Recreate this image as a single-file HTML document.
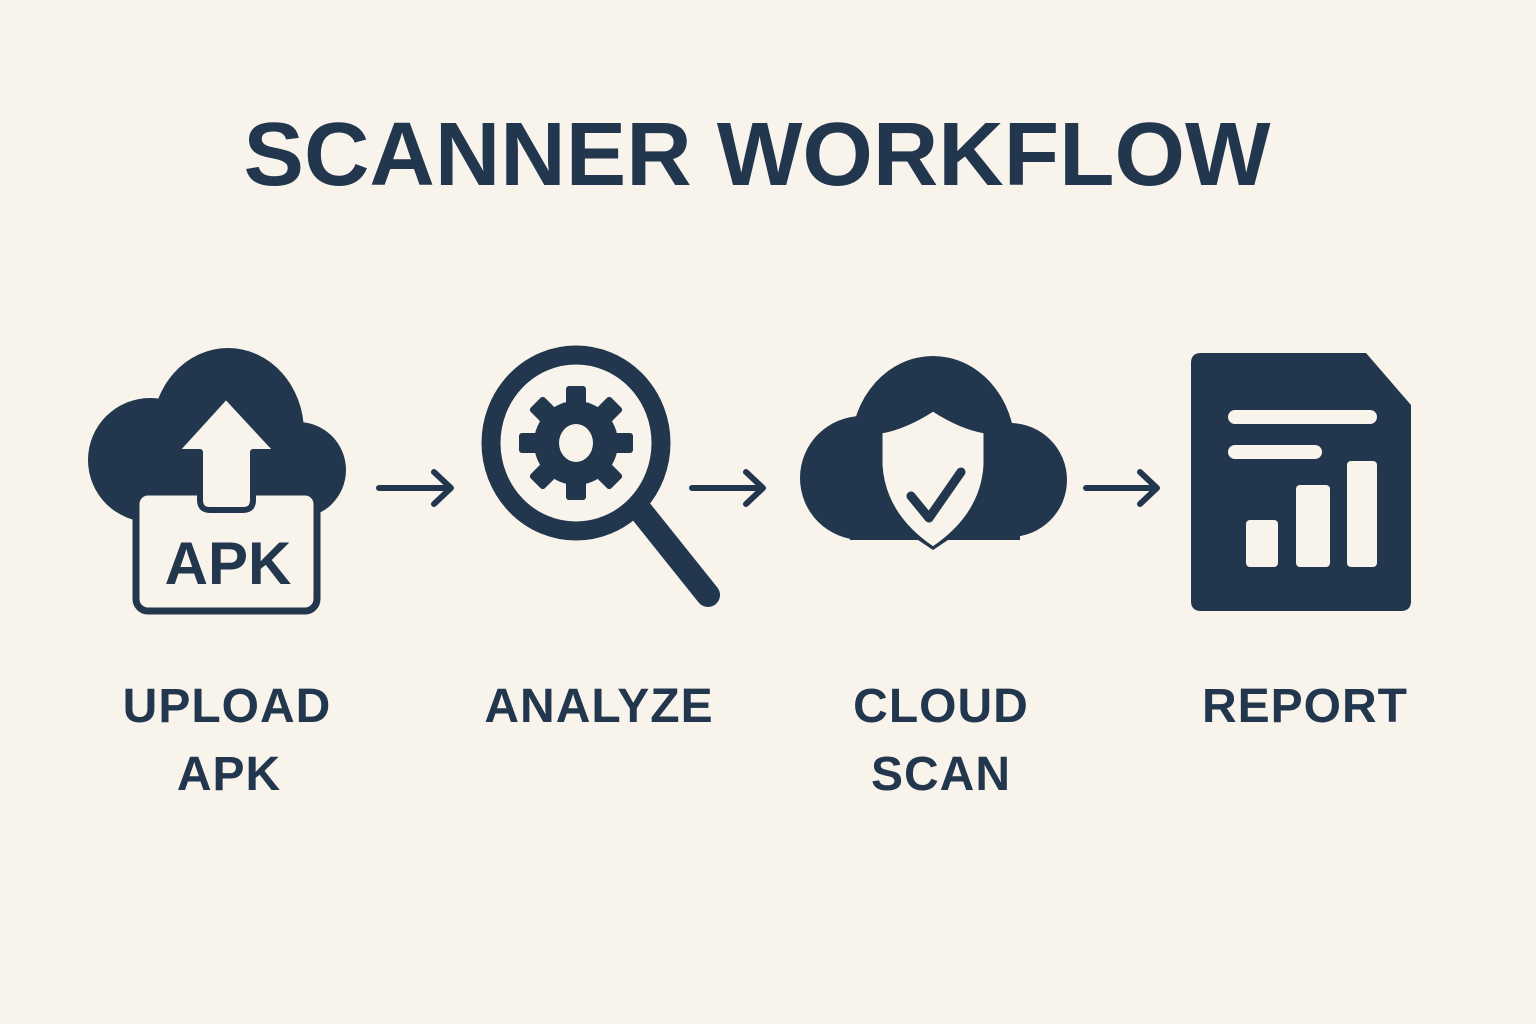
<!DOCTYPE html>
<html><head><meta charset="utf-8"><style>
html,body{margin:0;padding:0;background:#f8f4ec;}
svg{display:block}
text{font-family:"Liberation Sans",sans-serif;font-weight:bold;fill:#22364d}
</style></head><body>
<svg width="1536" height="1024" viewBox="0 0 1536 1024" xmlns="http://www.w3.org/2000/svg">
<rect width="1536" height="1024" fill="#f8f4ec"/>
<text x="757" y="185" font-size="90" text-anchor="middle" textLength="1027" lengthAdjust="spacingAndGlyphs">SCANNER WORKFLOW</text>

<!-- Upload icon -->
<g fill="#22364d">
<ellipse cx="228" cy="432" rx="76" ry="84"/>
<circle cx="150" cy="460" r="62"/>
<circle cx="298" cy="470" r="48"/>
<rect x="150" y="440" width="150" height="80"/>
</g>
<rect x="136" y="492" width="181" height="119" rx="12" fill="#f8f4ec" stroke="#22364d" stroke-width="7"/>
<path d="M226 396 L278 452 L253 452 L253 500 Q253 510 243 510 L210 510 Q200 510 200 500 L200 452 L175 452 Z" fill="#f8f4ec" stroke="#22364d" stroke-width="6" stroke-linejoin="round"/>
<text x="228" y="584" font-size="60" text-anchor="middle">APK</text>

<!-- Arrows -->
<g stroke="#22364d" stroke-width="6" stroke-linecap="round" stroke-linejoin="round" fill="none">
<path d="M379 488 H450 M434 472 L451 488 L434 504"/>
<path d="M692 488 H762 M746 472 L763 488 L746 504"/>
<path d="M1086 488 H1156 M1140 472 L1157 488 L1140 504"/>
</g>

<!-- Magnifier -->
<ellipse cx="576" cy="443" rx="85" ry="88" fill="none" stroke="#22364d" stroke-width="19"/>
<path d="M640 510 L708 595" stroke="#22364d" stroke-width="24" stroke-linecap="round"/>
<path d="M636 508 L652 528" stroke="#22364d" stroke-width="14"/>
<g fill="#22364d" transform="translate(576,443)">
<circle r="42"/>
<g>
<rect x="-10" y="-57" width="20" height="22" rx="3"/>
<rect x="-10" y="-57" width="20" height="22" rx="3" transform="rotate(45)"/>
<rect x="-10" y="-57" width="20" height="22" rx="3" transform="rotate(90)"/>
<rect x="-10" y="-57" width="20" height="22" rx="3" transform="rotate(135)"/>
<rect x="-10" y="-57" width="20" height="22" rx="3" transform="rotate(180)"/>
<rect x="-10" y="-57" width="20" height="22" rx="3" transform="rotate(225)"/>
<rect x="-10" y="-57" width="20" height="22" rx="3" transform="rotate(270)"/>
<rect x="-10" y="-57" width="20" height="22" rx="3" transform="rotate(315)"/>
</g>
<ellipse rx="17" ry="19" fill="#f8f4ec"/>
</g>

<!-- Cloud shield -->
<g fill="#22364d">
<ellipse cx="933" cy="448" rx="82" ry="92"/>
<circle cx="862" cy="478" r="62"/>
<circle cx="1010" cy="480" r="57"/>
<rect x="850" y="470" width="170" height="70"/>
<path d="M915 538 L933 550 L951 538 Z"/>
</g>
<path d="M933 410 Q905 428 881 432 L881 465 Q884 515 933 548 Q982 515 985 465 L985 432 Q961 428 933 410 Z" fill="#f8f4ec" stroke="#22364d" stroke-width="3"/>
<path d="M911 496 L929 518 L961 472" fill="none" stroke="#22364d" stroke-width="9" stroke-linecap="round" stroke-linejoin="round"/>

<!-- Report -->
<path d="M1201 353 L1366 353 L1411 405 L1411 601 Q1411 611 1401 611 L1201 611 Q1191 611 1191 601 L1191 363 Q1191 353 1201 353 Z" fill="#22364d"/>
<g fill="#f8f4ec">
<rect x="1228" y="410" width="149" height="14" rx="7"/>
<rect x="1228" y="445" width="94" height="14" rx="7"/>
<rect x="1246" y="520" width="32" height="47" rx="4"/>
<rect x="1296" y="485" width="34" height="82" rx="4"/>
<rect x="1347" y="461" width="30" height="106" rx="4"/>
</g>

<!-- Labels -->
<g font-size="48" text-anchor="middle" letter-spacing="1">
<text x="227" y="722">UPLOAD</text>
<text x="229" y="790">APK</text>
<text x="599" y="722">ANALYZE</text>
<text x="941" y="722">CLOUD</text>
<text x="941" y="790">SCAN</text>
<text x="1305" y="722">REPORT</text>
</g>
</svg>
</body></html>
